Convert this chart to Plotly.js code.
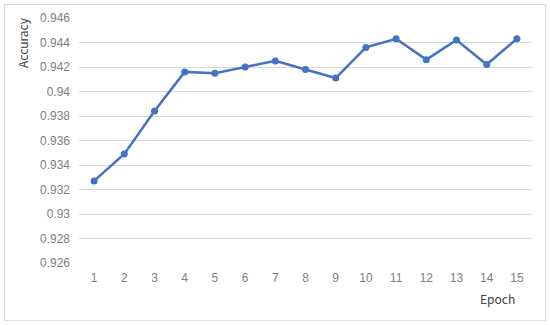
<!DOCTYPE html>
<html>
<head>
<meta charset="utf-8">
<script src="https://cdn.plot.ly/plotly-3.0.1.min.js"></script>
<style>
  body { margin: 0; background: #fff; }
  #chart { width: 550px; height: 325px; }
  #frame {
    position: absolute; left: 4px; top: 4px; width: 540px; height: 315px;
    border: 1px solid #d9d9d9; pointer-events: none;
  }
</style>
</head>
<body>
<div id="chart"></div>
<div id="frame"></div>
<script>
const epochs = ["1", "2", "3", "4", "5", "6", "7", "8", "9", "10", "11", "12", "13", "14", "15"];
const accuracy = [0.9327, 0.9349, 0.9384, 0.9416, 0.9415, 0.9420, 0.9425, 0.9418, 0.9411,
  0.9436, 0.9443, 0.9426, 0.9442, 0.9422, 0.9443];
const yTicks = [0.926, 0.928, 0.93, 0.932, 0.934, 0.936, 0.938, 0.94, 0.942, 0.944, 0.946];

const font = "'Noto Sans CJK SC', 'Liberation Sans', sans-serif";
const tickFont = "'Liberation Sans', Arial, sans-serif";

const trace = {
  type: "scatter",
  mode: "lines+markers",
  x: epochs,
  y: accuracy,
  line: { color: "#4472c4", width: 2.5 },
  marker: { color: "#4472c4", size: 7 },
  hoverinfo: "x+y"
};

const layout = {
  width: 550,
  height: 325,
  margin: { l: 79, r: 18, t: 18, b: 62 },
  paper_bgcolor: "#ffffff",
  plot_bgcolor: "#ffffff",
  showlegend: false,
  font: { family: font, color: "#595959", size: 12 },
  xaxis: {
    type: "category",
    range: [-0.5, 14.5],
    showgrid: false,
    showline: false,
    zeroline: false,
    ticks: "",
    ticklabelstandoff: 6,
    tickfont: { size: 12, color: "#808080", family: tickFont }
  },
  yaxis: {
    range: [0.926, 0.946],
    tickvals: yTicks,
    ticktext: yTicks.map((v) => String(v)),
    showgrid: true,
    gridcolor: "#d9d9d9",
    gridwidth: 1,
    zeroline: false,
    showline: false,
    ticks: "",
    ticklabelstandoff: 8,
    tickfont: { size: 12, color: "#808080", family: tickFont }
  },
  annotations: [
    {
      text: "Accuracy",
      xref: "paper", yref: "paper",
      x: (22 - 79) / 453, y: (263 - 43) / 245,
      xanchor: "center", yanchor: "middle",
      textangle: -90,
      showarrow: false,
      font: { size: 12, color: "#404040", family: font }
    },
    {
      text: "Epoch",
      xref: "paper", yref: "paper",
      x: (497 - 79) / 453, y: (263 - 298) / 245,
      xanchor: "center", yanchor: "middle",
      showarrow: false,
      font: { size: 12, color: "#404040", family: font }
    }
  ]
};

Plotly.newPlot("chart", [trace], layout, { displayModeBar: false, staticPlot: true });
</script>
</body>
</html>
